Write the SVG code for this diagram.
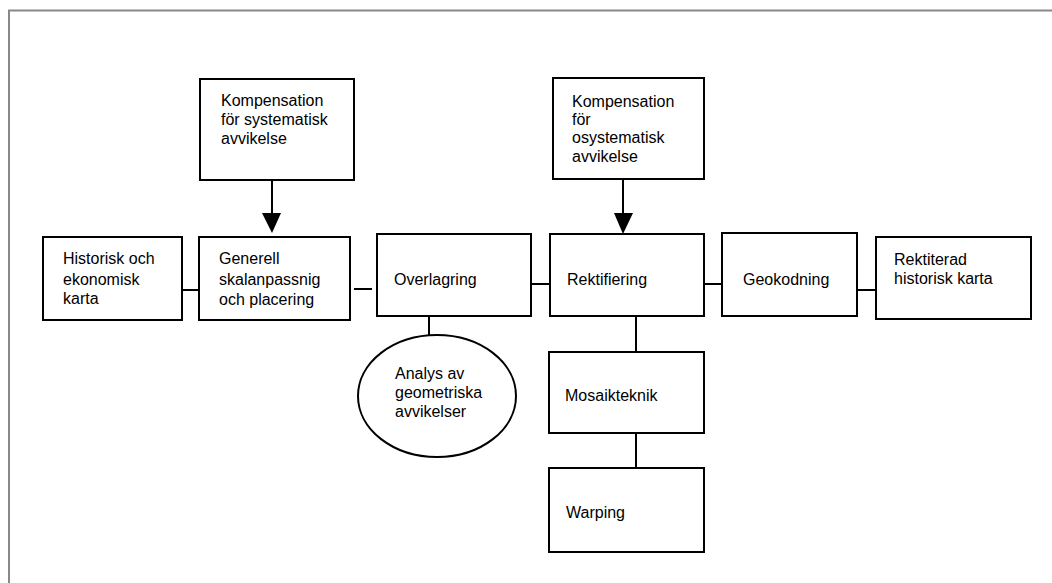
<svg xmlns="http://www.w3.org/2000/svg" width="1052" height="583" viewBox="0 0 1052 583">
<style>
.box{fill:#fff;stroke:#000;stroke-width:2}
.ln{stroke:#000;stroke-width:2;fill:none}
.head{fill:#000}
text{font-family:"Liberation Sans",Arial,sans-serif;font-size:16px;fill:#000}
</style>
<rect width="1052" height="583" fill="#fff"/>
<path d="M9,583 V10.5 H1052" fill="none" stroke="#888" stroke-width="2"/>
<g id="connectors">
<line class="ln" x1="272" y1="180" x2="272" y2="215"/>
<polygon class="head" points="262,213 281,213 272,233"/>
<line class="ln" x1="623" y1="179" x2="623" y2="215"/>
<polygon class="head" points="614,213 633,213 623,234"/>
<line class="ln" x1="182" y1="290" x2="198" y2="290"/>
<line class="ln" x1="354" y1="289" x2="372" y2="289"/>
<line class="ln" x1="531" y1="284" x2="550" y2="284"/>
<line class="ln" x1="704" y1="284" x2="722" y2="284"/>
<line class="ln" x1="857" y1="290" x2="876" y2="290"/>
<line class="ln" x1="429" y1="316" x2="429" y2="335"/>
<line class="ln" x1="636" y1="316" x2="636" y2="352"/>
<line class="ln" x1="636" y1="433" x2="636" y2="468"/>
</g>
<g id="komp1">
<rect class="box" x="200" y="79" width="154" height="101"/>
<text x="221" y="106">Kompensation</text>
<text x="221" y="125">för systematisk</text>
<text x="221" y="144">avvikelse</text>
</g>
<g id="komp2">
<rect class="box" x="553" y="78" width="151" height="101"/>
<text x="572" y="107">Kompensation</text>
<text x="572" y="125">för</text>
<text x="572" y="143">osystematisk</text>
<text x="572" y="162">avvikelse</text>
</g>
<g id="historisk">
<rect class="box" x="43" y="237" width="139" height="83"/>
<text x="63" y="264">Historisk och</text>
<text x="63" y="285">ekonomisk</text>
<text x="63" y="304">karta</text>
</g>
<g id="generell">
<rect class="box" x="199" y="237" width="151" height="83"/>
<text x="219" y="264">Generell</text>
<text x="219" y="285">skalanpassnig</text>
<text x="219" y="305">och placering</text>
</g>
<g id="overlagring">
<rect class="box" x="377" y="234" width="154" height="82"/>
<text x="394" y="285">Overlagring</text>
</g>
<g id="rektifiering">
<rect class="box" x="550" y="234" width="154" height="82"/>
<text x="567" y="285">Rektifiering</text>
</g>
<g id="geokodning">
<rect class="box" x="722" y="233" width="135" height="83"/>
<text x="743" y="285">Geokodning</text>
</g>
<g id="rektiterad">
<rect class="box" x="876" y="237" width="155" height="82"/>
<text x="894" y="265">Rektiterad</text>
<text x="894" y="284">historisk karta</text>
</g>
<g id="analys">
<ellipse class="box" cx="437" cy="396" rx="79" ry="61" stroke-width="1.5"/>
<text x="395" y="379">Analys av</text>
<text x="395" y="398">geometriska</text>
<text x="395" y="417">avvikelser</text>
</g>
<g id="mosaik">
<rect class="box" x="549" y="352" width="155" height="81"/>
<text x="565" y="401">Mosaikteknik</text>
</g>
<g id="warping">
<rect class="box" x="549" y="468" width="155" height="84"/>
<text x="566" y="518">Warping</text>
</g>
</svg>
